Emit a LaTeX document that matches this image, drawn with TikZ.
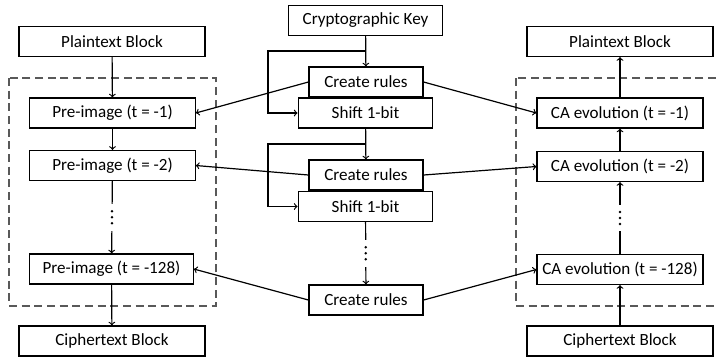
\documentclass[tikz,border=0pt]{standalone}
\usepackage{fontspec}
\setmainfont{Carlito}
\usepackage{tikz}
\usepackage{amsmath, amssymb}

\begin{document}
\begin{tikzpicture}[x=0.75pt,y=-0.75pt]
						\tikzstyle{block}=[draw=black,line width=0.9pt,minimum height=22.5pt,inner sep=0pt,font=\fontsize{12.8}{15}\selectfont,fill=white]
						\tikzstyle{link}=[line width=0.9pt]
						\tikzstyle{frame}=[draw=black!65,line width=0.9pt,dash pattern=on 6pt off 3.5pt]
						\tikzstyle{gap}=[fill=white,inner sep=0pt,minimum width=4pt,minimum height=20pt]
						\useasboundingbox (0,0) rectangle (716,362);
						\draw[frame](9,78) rectangle (216,306);
						\draw[frame](516,78) rectangle (730,306);
						\node[block,minimum width=139.5pt](plainL) at (112,41.5) {Plaintext Block};
						\node[block,minimum width=124pt](preA) at (112.5,113) {Pre-image (t = -1)};
						\node[block,minimum width=124pt](preB) at (112.5,165.5) {Pre-image (t = -2)};
						\node[block,minimum width=122.5pt](preC) at (111.5,269) {Pre-image (t = -128)};
						\node[block,minimum width=139.5pt](cipherL) at (112,341) {Ciphertext Block};
						\node[block,minimum width=116pt](key) at (365.5,20.5) {Cryptographic Key};
						\node[block,minimum width=101pt](shiftA) at (365.5,113) {Shift 1-bit};
						\node[block,minimum width=85.5pt](rulesA) at (366,82) {Create rules};
						\node[block,minimum width=101pt](shiftB) at (365.5,206.5) {Shift 1-bit};
						\node[block,minimum width=85.5pt](rulesB) at (366,175) {Create rules};
						\node[block,minimum width=85.5pt](rulesC) at (366,300) {Create rules};
						\node[block,minimum width=139.5pt](plainR) at (620,41.5) {Plaintext Block};
						\node[block,minimum width=124.5pt](caA) at (620,113) {CA evolution (t = -1)};
						\node[block,minimum width=124.5pt](caB) at (620,166.5) {CA evolution (t = -2)};
						\node[block,minimum width=124.5pt](caC) at (620,269.5) {CA evolution (t = -128)};
						\node[block,minimum width=139.5pt](cipherR) at (620,341) {Ciphertext Block};
						\coordinate (splitA) at (365.5,51);
						\coordinate (cornerA) at (268,51);
						\coordinate (splitB) at (365.5,144);
						\coordinate (cornerB) at (268,144);
						% decryption column
						\draw[link,->](plainL) -- (preA);
						\draw[link,->](preA) -- (preB);
						\draw[link,->](preB) -- node[gap](gapL){} (preC);
						\draw[link,->](preC) -- (cipherL);
						% key schedule
						\draw[link,->](key) -- (rulesA);
						\draw[link,->](splitA) -- (cornerA) |- (shiftA.west);
						\draw[link,->](shiftA) -- (rulesB);
						\draw[link,->](splitB) -- (cornerB) |- (shiftB.west);
						\draw[link,->](shiftB) -- node[gap](gapM){} (rulesC);
						% encryption column
						\draw[link,->](cipherR) -- (caC);
						\draw[link,->](caC) -- node[gap](gapR){} (caB);
						\draw[link,->](caB) -- (caA);
						\draw[link,->](caA) -- (plainR);
						% dots
						\foreach \g in {gapL,gapM,gapR}
							\foreach \d in {-6,0,6}
								\fill (\g) ++(0,\d) circle (1.1pt);
						% rules to both sides
						\draw[link,->](rulesA.west) -- (preA.east);
						\draw[link,->](rulesA.east) -- (caA.west);
						\draw[link,->](rulesB.west) -- (preB.east);
						\draw[link,->](rulesB.east) -- (caB.west);
						\draw[link,->](rulesC.west) -- (preC.east);
						\draw[link,->](rulesC.east) -- (caC.west);
					\end{tikzpicture}
\end{document}
